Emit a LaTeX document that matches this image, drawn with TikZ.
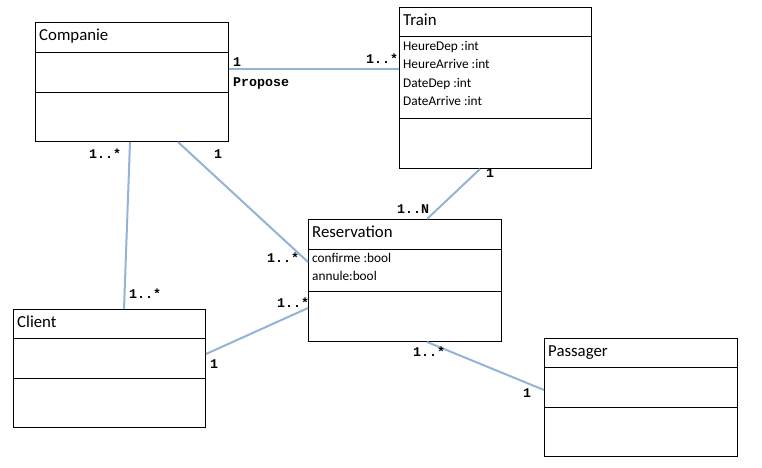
\documentclass[tikz,border=0pt]{standalone}
\usepackage{fontspec}
\setmainfont{Carlito}
\newfontfamily\multfont{Liberation Mono}
\usetikzlibrary{calc}
\definecolor{assocblue}{HTML}{95B3D7}

\begin{document}
\begin{tikzpicture}[
      x=1pt, y=-1pt,
      classbox/.style={draw=black, line width=1pt, rectangle, inner sep=0pt, anchor=north west},
      divider/.style={draw=black, line width=1pt},
      classname/.style={anchor=base west, inner sep=0pt, font=\fontsize{16.8}{18}\selectfont},
      attr/.style={anchor=base west, inner sep=0pt, font=\fontsize{13.3}{15}\selectfont},
      mult/.style={anchor=base west, inner sep=0pt, font=\multfont\bfseries\fontsize{13.3}{15}\selectfont},
      assoc/.style={draw=assocblue, line width=2pt}
    ]
    \useasboundingbox (0,0) rectangle (762,467);

    % Draw the class boxes with their two dividers
    \foreach \id/\title/\x/\y/\w/\h/\da/\db in {
        comp/Companie/35/22/193/119/30/70,
        train/Train/399/7/192/161/29/111,
        resa/Reservation/308/219/193/122/30/72,
        client/Client/13/309/192/118/29/69,
        pass/Passager/544/338/193/118/29/69} {
      \node[classbox, minimum width=\w pt, minimum height=\h pt] (\id) at (\x,\y) {};
      \draw[divider] ([yshift=-\da pt]\id.north west) -- ([yshift=-\da pt]\id.north east);
      \draw[divider] ([yshift=-\db pt]\id.north west) -- ([yshift=-\db pt]\id.north east);
      \node[classname] (\id-name) at ([xshift=4pt, yshift=-18pt]\id.north west) {\title};
    }

    % Attributes
    \foreach \txt [count=\i from 0] in {HeureDep :int, HeureArrive :int, DateDep :int, DateArrive :int} {
      \node[attr] (train-attr\i) at ([xshift=4pt, yshift=-43pt-18.5pt*\i]train.north west) {\txt};
    }
    \foreach \txt [count=\i from 0] in {confirme :bool, annule:bool} {
      \node[attr] (resa-attr\i) at ([xshift=4pt, yshift=-43pt-18.7pt*\i]resa.north west) {\txt};
    }

    % Associations
    \draw[assoc] (comp.east |- 0,69) -- (train.west |- 0,69);
    \draw[assoc] (comp.south -| 130,0) -- (client.north -| 124,0);
    \draw[assoc] (comp.south -| 178,0) -- (resa.west |- 0,262);
    \draw[assoc] (train.south -| 480,0) -- (resa.north -| 427,0);
    \draw[assoc] (client.east |- 0,354) -- (resa.west |- 0,308);
    \draw[assoc] (resa.south -| 427,0) -- (pass.west |- 0,390);

    % Multiplicities and role
    \node[mult] (propose) at (233,86) {Propose};
    \foreach \txt/\x/\y [count=\i] in {
        1/233/66, 1..*/366/63,
        1..*/89/158, 1/214/158,
        1/486/177, 1..N/397/213,
        1..*/267/262, 1..*/129/298,
        1..*/277/307, 1/210/368,
        1..*/413/356, 1/523/397} {
      \node[mult] (mult\i) at (\x,\y) {\txt};
    }
  \end{tikzpicture}
\end{document}
